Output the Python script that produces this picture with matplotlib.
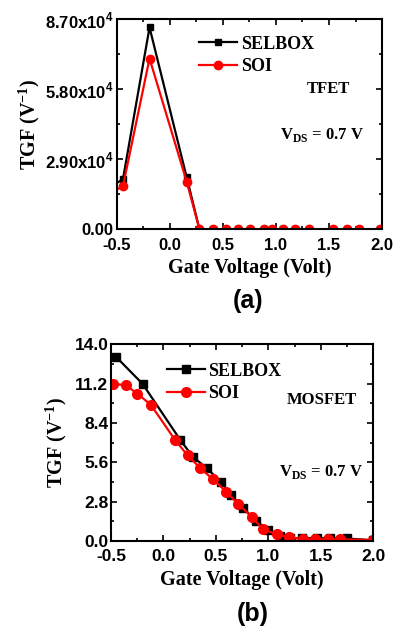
import numpy as np
import matplotlib
matplotlib.use('Agg')
import matplotlib.pyplot as plt
from matplotlib.ticker import MultipleLocator, FixedLocator

# フォント設定
plt.rcParams['font.family'] = ['Liberation Sans', 'DejaVu Sans']
plt.rcParams['font.weight'] = 'bold'
plt.rcParams['mathtext.fontset'] = 'custom'
plt.rcParams['mathtext.rm'] = 'Liberation Serif:bold'
plt.rcParams['mathtext.bf'] = 'Liberation Serif:bold'
plt.rcParams['mathtext.sf'] = 'Liberation Sans:bold'

SERIF = 'Liberation Serif'

# (a) TFET
tfet_v = [-0.56, -0.44, -0.19, 0.16, 0.28, 0.41, 0.53, 0.64, 0.76, 0.89, 0.96,
          1.07, 1.18, 1.31, 1.54, 1.67, 1.78, 1.98]
tfet_selbox = [17400, 20800, 83700, 21500, 0, 0, 0, 0, 0, 0, 0, 0, 0, 0, 0, 0, 0, 0]
tfet_soi = [14800, 17900, 70800, 19700, 0, 0, 0, 0, 0, 0, 0, 0, 0, 0, 0, 0, 0, 0]
tfet_yticks = [0, 29000, 58000, 87000]
tfet_ylabels = ['0.00', '2.90x10$^\\mathsf{4}$', '5.80x10$^\\mathsf{4}$', '8.70x10$^\\mathsf{4}$']

# (b) MOSFET
mos_v_selbox = [-0.45, -0.20, 0.16, 0.28, 0.41, 0.55, 0.64, 0.76, 0.88, 1.00, 1.11,
                1.21, 1.32, 1.46, 1.59, 1.75, 2.0]
mos_selbox = [13.1, 11.2, 7.2, 6.0, 5.2, 4.2, 3.3, 2.35, 1.45, 0.75, 0.38,
              0.22, 0.2, 0.2, 0.2, 0.18, 0.05]
mos_v_soi = [-0.48, -0.36, -0.25, -0.12, 0.11, 0.23, 0.35, 0.47, 0.60, 0.71, 0.84,
             0.95, 1.08, 1.20, 1.33, 1.44, 1.57, 1.68, 2.0]
mos_soi = [11.2, 11.1, 10.5, 9.7, 7.2, 6.1, 5.2, 4.4, 3.5, 2.65, 1.73,
           0.83, 0.48, 0.26, 0.14, 0.12, 0.12, 0.12, 0.08]
mos_yticks = [0.0, 2.8, 5.6, 8.4, 11.2, 14.0]

xticks = [-0.5, 0.0, 0.5, 1.0, 1.5, 2.0]

fig = plt.figure(figsize=(3.98, 6.28), dpi=100)
ax1 = fig.add_axes([0.293, 0.635, 0.667, 0.334])
ax2 = fig.add_axes([0.279, 0.1385, 0.659, 0.313])


def style_axes(ax, size):
    for s in ax.spines.values():
        s.set_linewidth(1.5)
    ax.tick_params(which='both', direction='in', top=True, right=True,
                   width=1.2, labelsize=size)
    ax.tick_params(axis='x', pad=6)
    ax.tick_params(axis='y', pad=2)
    ax.tick_params(which='major', length=4)
    ax.tick_params(which='minor', length=2.5)
    ax.set_xlim(-0.5, 2.0)
    ax.xaxis.set_major_locator(FixedLocator(xticks))
    ax.xaxis.set_minor_locator(MultipleLocator(0.25))
    ax.set_xticklabels(['%.1f' % t for t in xticks], fontweight='bold')
    ax.set_xlabel('Gate Voltage (Volt)', family=SERIF, fontweight='bold',
                  fontsize=14.5, labelpad=4)
    ax.set_ylabel('TGF (V$^\\mathrm{-1}$)', family=SERIF, fontweight='bold',
                  fontsize=14.5)


# (a)
ax1.plot(tfet_v, tfet_selbox, color='black', marker='s', markersize=5,
         linewidth=1.6, label='SELBOX')
ax1.plot(tfet_v, tfet_soi, color='red', marker='o', markersize=6,
         linewidth=1.6, label='SOI')
style_axes(ax1, 12)
ax1.set_ylim(0, 87000)
ax1.yaxis.set_major_locator(FixedLocator(tfet_yticks))
ax1.yaxis.set_minor_locator(FixedLocator([14500, 43500, 72500]))
ax1.set_yticklabels(tfet_ylabels, fontweight='bold')
ax1.yaxis.set_label_coords(-0.28, 0.5)
ax1.legend(loc='upper left', bbox_to_anchor=(0.25, 1.0), frameon=False,
           prop={'family': SERIF, 'weight': 'bold', 'size': 13},
           handlelength=2.1, handletextpad=0.2, labelspacing=0.3)
ax1.text(0.717, 0.67, 'TFET', transform=ax1.transAxes, family=SERIF,
         fontweight='bold', fontsize=12, va='center')
ax1.text(0.617, 0.45, 'V$_\\mathrm{DS}$ = 0.7 V', transform=ax1.transAxes,
         family=SERIF, fontweight='bold', fontsize=12, va='center')

# (b)
ax2.plot(mos_v_selbox, mos_selbox, color='black', marker='s', markersize=6,
         linewidth=1.6, label='SELBOX')
ax2.plot(mos_v_soi, mos_soi, color='red', marker='o', markersize=7,
         linewidth=1.6, label='SOI')
style_axes(ax2, 12.5)
ax2.set_ylim(0, 14)
ax2.yaxis.set_major_locator(FixedLocator(mos_yticks))
ax2.yaxis.set_minor_locator(MultipleLocator(1.4))
ax2.set_yticklabels(['%.1f' % t for t in mos_yticks], fontweight='bold')
ax2.yaxis.set_label_coords(-0.16, 0.5)
ax2.legend(loc='upper left', bbox_to_anchor=(0.15, 0.99), frameon=False,
           prop={'family': SERIF, 'weight': 'bold', 'size': 13},
           handlelength=2.1, handletextpad=0.2, labelspacing=0.3)
ax2.text(0.67, 0.715, 'MOSFET', transform=ax2.transAxes, family=SERIF,
         fontweight='bold', fontsize=12, va='center')
ax2.text(0.64, 0.35, 'V$_\\mathrm{DS}$ = 0.7 V', transform=ax2.transAxes,
         family=SERIF, fontweight='bold', fontsize=12, va='center')

fig.text(248 / 398, 1 - 301 / 628, '(a)', ha='center', va='center',
         fontsize=18, fontweight='bold')
fig.text(253 / 398, 1 - 614 / 628, '(b)', ha='center', va='center',
         fontsize=18, fontweight='bold')

fig.savefig('out.png', dpi=100)
